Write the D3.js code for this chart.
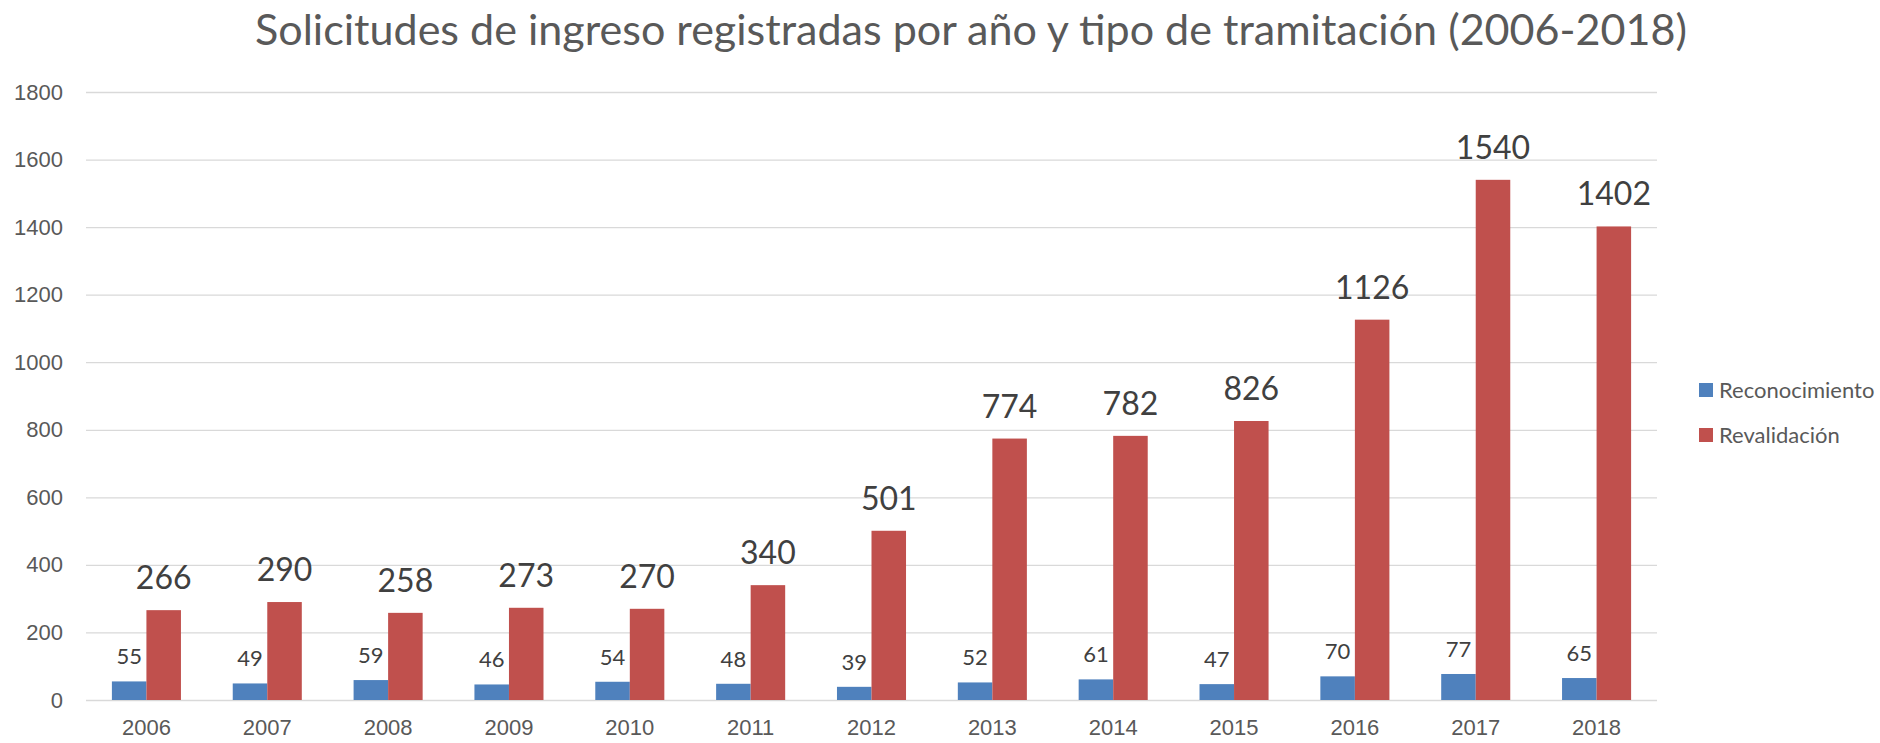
<!DOCTYPE html>
<html lang="es">
<head>
<meta charset="utf-8">
<title>Solicitudes de ingreso registradas por año y tipo de tramitación (2006-2018)</title>
<script src="https://cdn.jsdelivr.net/npm/d3@7"></script>
<style>
    body { margin: 0; background: #fff; }
    svg { display: block; font-family: Lato, "Open Sans", sans-serif; }
    .grid line { stroke: #d9d9d9; stroke-width: 1.3; }
    .grid .domain { display: none; }
    .axis text { fill: #595959; font-size: 22px; }
    .axis .domain, .axis line { display: none; }
    .chart-title { fill: #595959; font-size: 42px; }
    .label-small { fill: #404040; font-size: 22px; }
    .label-big { fill: #404040; font-size: 32px; }
    .legend text { fill: #595959; font-size: 22px; }
</style>
</head>
<body>
<div id="chart"></div>
<script>
    // Values.
const years = ["2006", "2007", "2008", "2009", "2010", "2011", "2012",
               "2013", "2014", "2015", "2016", "2017", "2018"];
const reconocimiento = [55, 49, 59, 46, 54, 48, 39, 52, 61, 47, 70, 77, 65];
const revalidacion = [266, 290, 258, 273, 270, 340, 501, 774, 782, 826, 1126, 1540, 1402];
const yTicks = [0, 200, 400, 600, 800, 1000, 1200, 1400, 1600, 1800];
const seriesNames = ["Reconocimiento", "Revalidación"];
const seriesColors = ["#4f81bd", "#c0504d"];

const width = 1880;
const height = 743;

    // Plot area in pixels.
const plot = { left: 86, right: 1657, top: 92, bottom: 700 };

const svg = d3.select("#chart")
    .append("svg")
    .attr("width", width)
    .attr("height", height);

    // Long form rows: one per year, each holding both series.
const rows = years.map((yr, i) => ({
    year: yr,
    values: [
        { key: seriesNames[0], value: reconocimiento[i] },
        { key: seriesNames[1], value: revalidacion[i] }
    ]
}));

const x = d3.scaleBand()
    .domain(years)
    .range([plot.left, plot.right]);

    // Two bars sit together in the middle of each year band.
const xSub = d3.scaleBand()
    .domain(seriesNames)
    .range([0, x.bandwidth()])
    .paddingOuter(0.75);

const y = d3.scaleLinear()
    .domain([0, 1800])
    .range([plot.bottom, plot.top]);

const color = d3.scaleOrdinal()
    .domain(seriesNames)
    .range(seriesColors);

    // Horizontal gridlines.
svg.append("g")
    .attr("class", "grid")
    .attr("transform", `translate(${plot.left}, 0)`)
    .call(d3.axisLeft(y).tickValues(yTicks).tickSize(-(plot.right - plot.left)).tickFormat(""));

    // Y axis labels.
svg.append("g")
    .attr("class", "axis")
    .attr("transform", `translate(${plot.left - 20}, 0)`)
    .call(d3.axisLeft(y).tickValues(yTicks).tickSize(0).tickPadding(3).tickFormat(d3.format("d")));

    // X axis labels (kept just inside the bottom edge).
svg.append("g")
    .attr("class", "axis")
    .attr("transform", `translate(0, ${plot.bottom})`)
    .call(d3.axisBottom(x).tickSize(0).tickPadding(19))
    .selectAll("text")
    .attr("dy", "0.71em");

    // Bars.
const groups = svg.selectAll(".year")
    .data(rows)
    .join("g")
    .attr("class", "year")
    .attr("transform", d => `translate(${x(d.year)}, 0)`);

groups.selectAll("rect")
    .data(d => d.values)
    .join("rect")
    .attr("x", d => xSub(d.key))
    .attr("y", d => y(d.value))
    .attr("width", xSub.bandwidth())
    .attr("height", d => y(0) - y(d.value))
    .attr("fill", d => color(d.key));

    // Value labels: small ones for Reconocimiento, large ones for Revalidación.
groups.selectAll("text")
    .data(d => d.values)
    .join("text")
    .attr("class", (d, i) => i === 0 ? "label-small" : "label-big")
    .attr("x", d => xSub(d.key) + xSub.bandwidth() / 2)
    .attr("y", (d, i) => y(d.value) - (i === 0 ? 17 : 21))
    .attr("text-anchor", "middle")
    .text(d => d.value);

    // Title.
svg.append("text")
    .attr("class", "chart-title")
    .attr("x", 255)
    .attr("y", 45)
    .attr("textLength", 1432)
    .attr("lengthAdjust", "spacingAndGlyphs")
    .text("Solicitudes de ingreso registradas por año y tipo de tramitación (2006-2018)");

    // Legend on the right.
const legend = svg.append("g")
    .attr("class", "legend")
    .selectAll("g")
    .data(seriesNames)
    .join("g")
    .attr("transform", (d, i) => `translate(1699, ${383 + i * 45})`);

legend.append("rect")
    .attr("width", 14)
    .attr("height", 14)
    .attr("fill", d => color(d));

legend.append("text")
    .attr("x", 20)
    .attr("y", 15)
    .text(d => d);
</script>
</body>
</html>
